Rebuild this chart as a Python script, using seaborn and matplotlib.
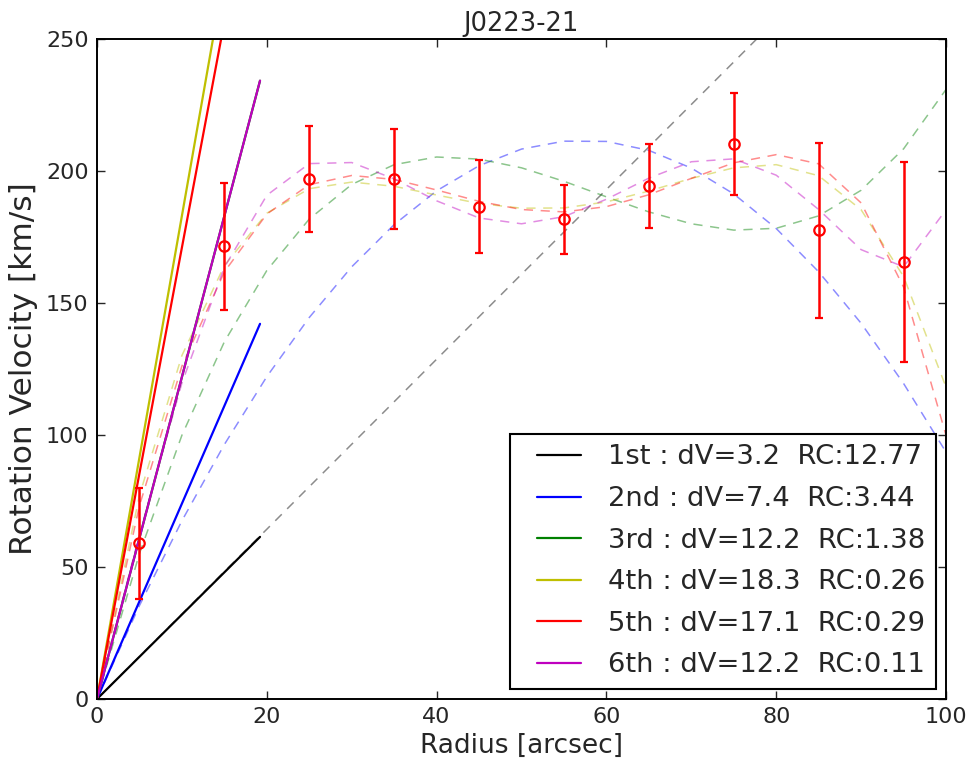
import numpy as np
import pandas as pd
import matplotlib
matplotlib.use("Agg")
import matplotlib.pyplot as plt
from matplotlib.legend_handler import HandlerLine2D
import seaborn as sns

# ---- data ----
radius = [5, 15, 25, 35, 45, 55, 65, 75, 85, 95]
velocity = [59, 171.5, 197, 197, 186.5, 181.7, 194.4, 210.2, 177.5, 165.5]
vel_err = [21, 24, 20, 19, 17.6, 13, 16, 19.2, 33, 38]

fit_names = ["1st", "2nd", "3rd", "4th", "5th", "6th"]
fit_dV = ["3.2", "7.4", "12.2", "18.3", "17.1", "12.2"]
fit_RC = ["12.77", "3.44", "1.38", "0.26", "0.29", "0.11"]

# dashed fit curves, sampled every 5 arcsec from 0 to 100
curve_r = [0, 5, 10, 15, 20, 25, 30, 35, 40, 45, 50, 55, 60, 65, 70, 75, 80, 85, 90, 95, 100]
curve_1st = [0.0, 16.1, 32.2, 48.3, 64.3, 80.4, 96.5, 112.6, 128.7, 144.8, 160.9,
             176.9, 193.0, 209.1, 225.2, 241.3, 257.4, 273.5, 289.5, 305.6, 321.7]
curve_2nd = [0.0, 35.4, 67.5, 96.4, 122.1, 144.5, 163.7, 179.7, 192.5, 202.0, 208.3,
             211.3, 211.2, 207.8, 201.1, 191.3, 178.2, 161.8, 142.3, 119.5, 93.5]
curve_3rd = [0.0, 55.1, 99.9, 135.3, 162.3, 181.8, 194.9, 202.4, 205.3, 204.5, 201.2,
             196.1, 190.2, 184.5, 180.0, 177.6, 178.3, 183.0, 192.7, 208.4, 230.9]
curve_4th = [0.0, 77.1, 130.1, 164.2, 184.0, 193.3, 195.8, 194.2, 190.9, 187.7, 185.9,
             186.0, 188.3, 192.4, 197.2, 201.2, 202.4, 198.2, 185.3, 160.0, 118.1]
curve_5th = [0.0, 73.2, 126.1, 161.8, 183.7, 194.8, 198.3, 196.8, 192.8, 188.5, 185.4,
             184.5, 186.5, 191.0, 197.2, 203.1, 206.2, 202.7, 187.9, 156.0, 99.8]
curve_6th = [0.0, 62.3, 119.7, 163.5, 190.8, 202.8, 203.2, 197.0, 188.7, 182.2, 180.0,
             182.7, 189.3, 197.3, 203.5, 204.6, 198.4, 185.4, 170.2, 163.7, 185.3]

# solid inner-slope lines: from the origin to r = 19.2
slope_r = [0, 19.2]
slope_end_v = [61.4, 142.1, 234.2, 351.4, 328.3, 234.2]

colors = ["#000000", "#0000ff", "#008000", "#bfbf00", "#ff0000", "#bf00bf"]


class LeadPadHandler(HandlerLine2D):
    """Legend line handler that leaves some blank space before the line."""
    def __init__(self, lead=0.6, **kw):
        super().__init__(**kw)
        self.lead = lead

    def create_artists(self, legend, orig_handle, xdescent, ydescent, width,
                       height, fontsize, trans):
        p = self.lead * fontsize
        return super().create_artists(legend, orig_handle, xdescent - p, ydescent,
                                      width - p, height, fontsize, trans)


# ---- figure ----
sns.set_style("ticks")
plt.rcParams["font.family"] = ["DejaVu Sans"]
fig = plt.figure(figsize=(9.72, 7.63), dpi=100)
ax = fig.add_axes([0.0998, 0.0839, 0.8735, 0.865])

palette = dict(zip(fit_names, colors))

curves = [curve_1st, curve_2nd, curve_3rd, curve_4th, curve_5th, curve_6th]
df_curves = pd.DataFrame({
    "r": np.tile(curve_r, len(fit_names)),
    "v": np.concatenate(curves),
    "fit": np.repeat(fit_names, len(curve_r)),
})
sns.lineplot(data=df_curves, x="r", y="v", hue="fit", palette=palette,
             estimator=None, sort=False, lw=1.1, alpha=0.45, legend=False, ax=ax)
for ln in ax.lines:
    ln.set_dashes((6, 5))

n_before = len(ax.lines)
df_slope = pd.DataFrame({
    "r": np.tile(slope_r, len(fit_names)),
    "v": np.ravel([[0, ev] for ev in slope_end_v]),
    "fit": np.repeat(fit_names, len(slope_r)),
})
sns.lineplot(data=df_slope, x="r", y="v", hue="fit", palette=palette,
             estimator=None, sort=False, lw=1.6, legend=False, ax=ax)
solid_handles = ax.lines[n_before:]

ax.errorbar(radius, velocity, yerr=vel_err, fmt="o", color="red", ecolor="red",
            elinewidth=1.8, capsize=2.6, capthick=1.5, markersize=7.5,
            markerfacecolor="none", markeredgecolor="red", markeredgewidth=1.6, zorder=5)

ax.set_xlim(0, 100)
ax.set_ylim(0, 250)
ax.set_xticks([0, 20, 40, 60, 80, 100])
ax.set_yticks([0, 50, 100, 150, 200, 250])
ax.tick_params(direction="in", top=True, right=True, length=6, width=1,
               labelsize=16, pad=6)
for s in ax.spines.values():
    s.set_linewidth(1.4)
    s.set_color("black")

ax.set_xlabel("Radius [arcsec]", fontsize=19, labelpad=4)
ax.set_ylabel("Rotation Velocity [km/s]", fontsize=22.5, labelpad=6)
ax.set_title("J0223-21", fontsize=18.5, pad=6)

labels = [f"{n} : dV={d}  RC:{rc}" for n, d, rc in zip(fit_names, fit_dV, fit_RC)]
leg = ax.legend(solid_handles, labels, loc="lower right", fontsize=19.7,
                fancybox=False, framealpha=1, edgecolor="black",
                handlelength=2.2, handletextpad=1.0, labelspacing=0.57,
                borderpad=0.4, borderaxespad=0.35,
                handler_map={h: LeadPadHandler(0.6) for h in solid_handles})
leg.get_frame().set_linewidth(1.5)

fig.savefig("out.png", dpi=100)
